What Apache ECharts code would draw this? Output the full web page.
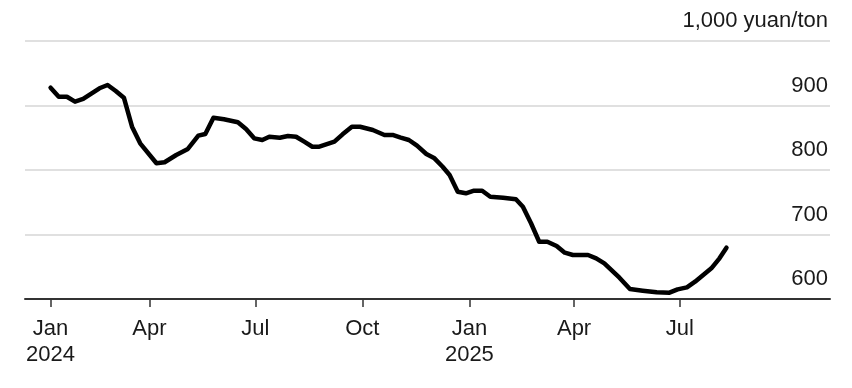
<!DOCTYPE html>
<html>
<head>
<meta charset="utf-8">
<script src="https://cdn.jsdelivr.net/npm/echarts@6/dist/echarts.min.js"></script>
<style>
html,body{margin:0;padding:0;background:#fff;}
#chart{width:852px;height:388px;}
</style>
</head>
<body>
<div id="chart"></div>
<script>
const dates = [
"2024-01-07","2024-01-14","2024-01-21","2024-01-28","2024-02-04","2024-02-18","2024-02-25","2024-03-03","2024-03-10","2024-03-17",
"2024-03-24","2024-04-07","2024-04-14","2024-04-24","2024-05-04","2024-05-13","2024-05-19","2024-05-26","2024-06-04","2024-06-16",
"2024-06-23","2024-06-30","2024-07-07","2024-07-13","2024-07-22","2024-07-29","2024-08-05","2024-08-12","2024-08-19","2024-08-25",
"2024-09-07","2024-09-14","2024-09-22","2024-09-29","2024-10-10","2024-10-20","2024-10-27","2024-11-03","2024-11-10","2024-11-17",
"2024-11-25","2024-12-02","2024-12-09","2024-12-15","2024-12-22","2024-12-29","2025-01-05","2025-01-12","2025-01-19","2025-01-30",
"2025-02-10","2025-02-16","2025-02-23","2025-03-02","2025-03-09","2025-03-17","2025-03-24","2025-03-31","2025-04-13","2025-04-20",
"2025-04-27","2025-05-10","2025-05-19","2025-05-30","2025-06-11","2025-06-22","2025-06-29","2025-07-07","2025-07-14","2025-07-21",
"2025-07-28","2025-08-04","2025-08-10"
];
const prices = [
927.6,913.6,913.6,905.9,910.1,926.7,931.8,922.5,912.1,867.1,
841.4,810.4,812.0,823.3,832.6,853.2,855.8,881.1,878.6,874.0,
863.6,849.1,846.5,851.6,850.1,852.7,851.6,843.9,836.1,836.1,
843.9,855.3,867.1,867.1,862.0,854.3,854.3,850.1,846.5,837.7,
824.8,818.1,805.1,792.2,766.4,763.9,767.9,767.9,758.6,757.1,
754.6,743.1,717.4,688.8,688.8,682.2,671.8,668.2,668.2,663.1,
655.3,633.0,615.5,612.9,610.4,609.8,615.0,618.1,626.8,637.2,
647.6,663.1,679.5
];
const xTickDates = ["2024-01-07","2024-04-01","2024-07-01","2024-10-01","2025-01-01","2025-04-01","2025-07-01"];
const yTicks = [600,700,800,900,1000];
const unitLabel = "1,000 yuan/ton";
const monthNames = ["Jan","Feb","Mar","Apr","May","Jun","Jul","Aug","Sep","Oct","Nov","Dec"];

const ts = s => { const [y,m,d] = s.split("-").map(Number); return Date.UTC(y, m-1, d); };
const seriesData = dates.map((d,i) => [ts(d), prices[i]]);
const tickVals = xTickDates.map(ts);

const chart = echarts.init(document.getElementById("chart"), null, {renderer:"canvas"});
const FONT = "'Liberation Sans', Arial, Helvetica, sans-serif";
chart.setOption({
  animation:false,
  backgroundColor:"#ffffff",
  grid:{left:25,right:22,top:41,bottom:89,containLabel:false},
  xAxis:{
    type:"value",
    min:ts("2023-12-16"),
    max:ts("2025-11-07"),
    scale:true,
    splitLine:{show:false},
    axisLine:{show:true,onZero:false,lineStyle:{color:"#333333",width:2}},
    axisTick:{show:true,customValues:tickVals,length:8,lineStyle:{color:"#333333",width:1.5}},
    axisLabel:{
      customValues:tickVals,
      margin:17,
      fontFamily:FONT,fontSize:22,color:"#1a1a1a",lineHeight:26,
      formatter:function(v){
        const d = new Date(v);
        const m = d.getUTCMonth();
        return m===0 ? monthNames[m]+"\n"+d.getUTCFullYear() : monthNames[m];
      }
    }
  },
  yAxis:{
    type:"value",
    position:"right",
    min:yTicks[0],max:yTicks[yTicks.length-1],interval:100,
    axisLine:{show:false},
    axisTick:{show:false},
    splitLine:{show:true,lineStyle:{color:"#e0e0e0",width:2}},
    axisLabel:{
      inside:true,
      margin:2,
      align:"right",
      verticalAlign:"bottom",
      padding:[0,0,9,0],
      fontFamily:FONT,fontSize:22,color:"#1a1a1a",
      formatter:function(v){ return v===1000 ? unitLabel : String(v); }
    }
  },
  series:[{
    type:"line",
    data:seriesData,
    showSymbol:false,
    symbol:"none",
    lineStyle:{color:"#000000",width:4.5,join:"round",cap:"round"},
    z:5
  }]
});
</script>
</body>
</html>
